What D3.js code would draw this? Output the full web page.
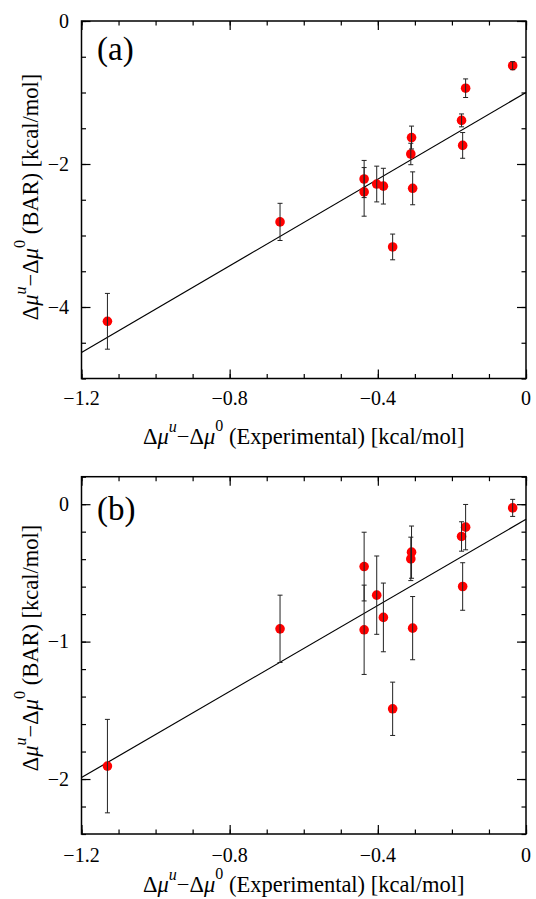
<!DOCTYPE html>
<html>
<head>
<meta charset="utf-8">
<script src="https://cdn.jsdelivr.net/npm/d3@7"></script>
</head>
<body style="margin:0">
<script>
// experimental values (shared by both panels)
const experimental = [-1.13, -0.664, -0.437, -0.437, -0.403, -0.385, -0.36, -0.311, -0.309, -0.306, -0.174, -0.171, -0.163, -0.036];

// panel (a)
const barA = [-4.2, -2.81, -2.21, -2.39, -2.28, -2.31, -3.16, -1.86, -1.63, -2.34, -1.39, -1.74, -0.94, -0.625];
const errA = [0.39, 0.26, 0.26, 0.34, 0.25, 0.25, 0.18, 0.15, 0.16, 0.23, 0.09, 0.18, 0.13, 0.056];
const fitA = [3.03, -1.0]; // slope, intercept
const yTicksA = [0, -2, -4];
const yTickLabelsA = ["0", "\u22122", "\u22124"];

// panel (b)
const barB = [-1.906, -0.907, -0.454, -0.914, -0.662, -0.824, -1.489, -0.398, -0.349, -0.902, -0.235, -0.599, -0.167, -0.027];
const errB = [0.34, 0.245, 0.25, 0.325, 0.285, 0.25, 0.194, 0.158, 0.19, 0.23, 0.107, 0.173, 0.165, 0.062];
const fitB = [1.566, -0.11];
const yTicksB = [0, -1, -2];
const yTickLabelsB = ["0", "\u22121", "\u22122"];

const xTicks = [-1.2, -0.8, -0.4, 0];
const xTickLabels = ["\u22121.2", "\u22120.8", "\u22120.4", "0"];

const serif = '"Liberation Serif"';
const width = 536;
const height = 899;

const svg = d3
  .select("body")
  .append("svg")
  .attr("width", width)
  .attr("height", height)
  .style("display", "block")
  .style("font-family", serif);

function drawPanel({
  top,
  bottom,
  yDomain,
  yMinorStep,
  yTicks,
  yTickLabels,
  bar,
  err,
  fit,
  tag,
  tagY,
  xLabelY,
  yLabelCenter,
  xTickY,
}) {
  const left = 81.5;
  const right = 526;

  const x = d3.scaleLinear().domain([-1.2, 0]).range([left, right]);
  const y = d3.scaleLinear().domain(yDomain).range([bottom, top]);

  const xMinor = d3.range(-12, 1).map((d) => d / 10);
  const n = Math.round((yDomain[1] - yDomain[0]) / yMinorStep);
  const yMinor = d3.range(0, n + 1).map((i) => yDomain[0] + i * yMinorStep);

  const tickAxis = (axis, scale, values, size, at) => {
    const a = svg
      .append("g")
      .attr("transform", at)
      .call(axis(scale).tickValues(values).tickSize(size).tickFormat(""));
    a.select(".domain").remove();
    a.selectAll("line").attr("stroke", "#000").attr("stroke-width", 1.2);
    return a;
  };

  // ticks on all four sides, pointing inward
  tickAxis(d3.axisBottom, x, xMinor, -4.5, `translate(0,${bottom})`);
  tickAxis(d3.axisBottom, x, xTicks, -9, `translate(0,${bottom})`);
  tickAxis(d3.axisTop, x, xMinor, -4.5, `translate(0,${top})`);
  tickAxis(d3.axisTop, x, xTicks, -9, `translate(0,${top})`);
  tickAxis(d3.axisLeft, y, yMinor, -4.5, `translate(${left},0)`);
  tickAxis(d3.axisLeft, y, yTicks, -9, `translate(${left},0)`);
  tickAxis(d3.axisRight, y, yMinor, -4.5, `translate(${right},0)`);
  tickAxis(d3.axisRight, y, yTicks, -9, `translate(${right},0)`);

  // tick labels
  xTicks.forEach((d, i) => {
    svg
      .append("text")
      .style("font-family", serif)
      .style("font-size", "20px")
      .attr("text-anchor", "middle")
      .attr("x", x(d))
      .attr("y", xTickY)
      .text(xTickLabels[i]);
  });
  yTicks.forEach((d, i) => {
    svg
      .append("text")
      .style("font-family", serif)
      .style("font-size", "20px")
      .attr("text-anchor", "end")
      .attr("x", 69)
      .attr("y", y(d) + 6.6)
      .text(yTickLabels[i]);
  });

  // fit line
  svg
    .append("line")
    .attr("x1", x(-1.2))
    .attr("y1", y(fit[0] * -1.2 + fit[1]))
    .attr("x2", x(0))
    .attr("y2", y(fit[1]))
    .attr("stroke", "#000")
    .attr("stroke-width", 1.2);

  const points = experimental.map((d, i) => ({ x: d, y: bar[i], e: err[i] }));

  svg
    .append("g")
    .selectAll("circle")
    .data(points)
    .join("circle")
    .attr("cx", (d) => x(d.x))
    .attr("cy", (d) => y(d.y))
    .attr("r", 4.8)
    .attr("fill", "#ff0000");

  // error bars, drawn over the dots
  const bars = svg
    .append("g")
    .attr("stroke", "#222")
    .attr("stroke-width", 1)
    .selectAll("g")
    .data(points)
    .join("g");
  bars
    .append("line")
    .attr("x1", (d) => x(d.x))
    .attr("x2", (d) => x(d.x))
    .attr("y1", (d) => y(d.y - d.e))
    .attr("y2", (d) => y(d.y + d.e));
  [-1, 1].forEach((s) => {
    bars
      .append("line")
      .attr("x1", (d) => x(d.x) - 2.5)
      .attr("x2", (d) => x(d.x) + 2.5)
      .attr("y1", (d) => y(d.y + s * d.e))
      .attr("y2", (d) => y(d.y + s * d.e));
  });

  // frame
  svg
    .append("rect")
    .attr("x", left)
    .attr("y", top)
    .attr("width", right - left)
    .attr("height", bottom - top)
    .attr("fill", "none")
    .attr("stroke", "#000")
    .attr("stroke-width", 1.5);

  svg
    .append("text")
    .attr("x", 97)
    .attr("y", tagY)
    .style("font-family", serif)
    .style("font-size", "33px")
    .text(tag);

  const label = (sel, rest) => {
    sel.append("tspan").text("\u0394");
    sel.append("tspan").style("font-style", "italic").text("\u03bc");
    sel.append("tspan").style("font-style", "italic").style("font-size", "16px").attr("dy", -12).text("u");
    sel.append("tspan").attr("dy", 12).text("\u2212\u0394");
    sel.append("tspan").style("font-style", "italic").text("\u03bc");
    sel.append("tspan").style("font-size", "16px").attr("dy", -13).text("0");
    sel.append("tspan").attr("dy", 13).text(rest);
  };

  svg
    .append("text")
    .attr("x", (left + right) / 2)
    .attr("y", xLabelY)
    .style("font-family", serif)
    .style("font-size", "22.5px")
    .attr("text-anchor", "middle")
    .call(label, " (Experimental) [kcal/mol]");

  svg
    .append("text")
    .attr("transform", `translate(38,${yLabelCenter}) rotate(-90)`)
    .style("font-family", serif)
    .style("font-size", "22.5px")
    .attr("text-anchor", "middle")
    .call(label, " (BAR) [kcal/mol]");
}

drawPanel({
  top: 21,
  bottom: 378.5,
  yDomain: [-5, 0],
  yMinorStep: 0.5,
  yTicks: yTicksA,
  yTickLabels: yTickLabelsA,
  bar: barA,
  err: errA,
  fit: fitA,
  tag: "(a)",
  tagY: 59.5,
  xLabelY: 444,
  yLabelCenter: 197,
  xTickY: 405,
});

drawPanel({
  top: 476.7,
  bottom: 834,
  yDomain: [-2.4, 0.2],
  yMinorStep: 0.2,
  yTicks: yTicksB,
  yTickLabels: yTickLabelsB,
  bar: barB,
  err: errB,
  fit: fitB,
  tag: "(b)",
  tagY: 520,
  xLabelY: 892,
  yLabelCenter: 648,
  xTickY: 861.5,
});
</script>
</body>
</html>
